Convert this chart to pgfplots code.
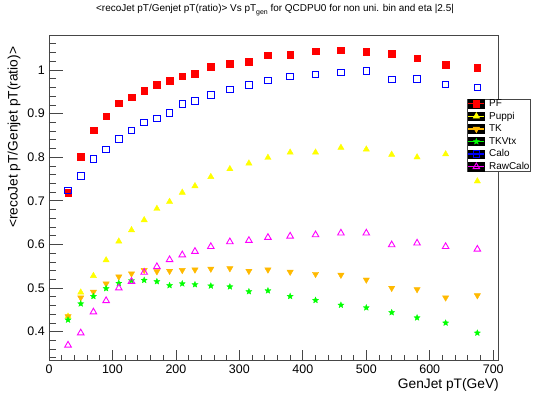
\documentclass[border=0pt]{standalone}
\usepackage{pgfplots}
\usepackage{pgfplotstable}
\pgfplotsset{compat=1.18}
\usepackage{fontspec}
\setmainfont{Liberation Sans}

\definecolor{tkorange}{RGB}{255,185,0}
\definecolor{framegray}{RGB}{70,70,70}
\definecolor{pfred}{RGB}{255,0,0}
\definecolor{pupyellow}{RGB}{255,255,0}
\definecolor{vtxgreen}{RGB}{0,255,0}
\definecolor{caloblue}{RGB}{0,0,255}
\definecolor{rawmag}{RGB}{255,0,255}

\pgfdeclareplotmark{fstar}{%
  \pgfpathmoveto{\pgfpointpolar{90}{\pgfplotmarksize}}%
  \pgfpathlineto{\pgfpointpolar{126}{0.45\pgfplotmarksize}}%
  \pgfpathlineto{\pgfpointpolar{162}{\pgfplotmarksize}}%
  \pgfpathlineto{\pgfpointpolar{198}{0.45\pgfplotmarksize}}%
  \pgfpathlineto{\pgfpointpolar{234}{\pgfplotmarksize}}%
  \pgfpathlineto{\pgfpointpolar{270}{0.45\pgfplotmarksize}}%
  \pgfpathlineto{\pgfpointpolar{306}{\pgfplotmarksize}}%
  \pgfpathlineto{\pgfpointpolar{342}{0.45\pgfplotmarksize}}%
  \pgfpathlineto{\pgfpointpolar{18}{\pgfplotmarksize}}%
  \pgfpathlineto{\pgfpointpolar{54}{0.45\pgfplotmarksize}}%
  \pgfpathclose
  \pgfusepathqfillstroke
}

\pgfplotstableread{
x   pf     calo   puppi  tk     tkvtx  raw
30  0.719  0.724  0.435  0.435  0.427  0.369
50  0.801  0.757  0.490  0.478  0.464  0.397
70  0.862  0.796  0.528  0.491  0.481  0.445
90  0.894  0.818  0.564  0.510  0.499  0.471
110 0.924  0.842  0.607  0.526  0.511  0.500
130 0.9375 0.861  0.633  0.533  0.517  0.515
150 0.953  0.880  0.656  0.541  0.518  0.536
170 0.966  0.889  0.682  0.538  0.515  0.549
190 0.976  0.902  0.698  0.539  0.506  0.565
210 0.986  0.922  0.719  0.541  0.510  0.576
230 0.992  0.929  0.734  0.542  0.508  0.584
255 1.008  0.943  0.755  0.544  0.505  0.595
285 1.015  0.955  0.773  0.545  0.503  0.606
315 1.019  0.966  0.786  0.539  0.492  0.609
345 1.034  0.976  0.799  0.542  0.494  0.616
380 1.035  0.985  0.811  0.537  0.481  0.619
420 1.043  0.990  0.811  0.532  0.472  0.622
460 1.045  0.994  0.822  0.530  0.461  0.626
500 1.042  0.998  0.818  0.519  0.455  0.626
540 1.038  0.978  0.806  0.500  0.444  0.599
580 1.027  0.979  0.800  0.497  0.432  0.603
625 1.012  0.967  0.807  0.478  0.420  0.595
675 1.005  0.960  0.745  0.483  0.397  0.589
}\datatable

\begin{document}
\begin{tikzpicture}
\path[use as bounding box] (0,0) rectangle (550bp,397bp);
\begin{axis}[
  at={(49bp,37bp)}, anchor=south west,
  scale only axis, width=449.3bp, height=324.7bp,
  xmin=0, xmax=708, ymin=0.335, ymax=1.0796,
  xtick={0,100,...,700},
  minor xtick={0,20,...,700},
  ytick={0.4,0.5,0.6,0.7,0.8,0.9,1.0},
  minor ytick={0.34,0.36,0.38,0.40,0.42,0.44,0.46,0.48,0.50,0.52,0.54,0.56,0.58,0.60,0.62,0.64,0.66,0.68,0.70,0.72,0.74,0.76,0.78,0.80,0.82,0.84,0.86,0.88,0.90,0.92,0.94,0.96,0.98,1.00,1.02,1.04,1.06},
  tick align=inside,
  xtick pos=bottom, ytick pos=left,
  major tick length=13.5bp, minor tick length=6.7bp,
  xtick style={/pgfplots/major tick length=9.75bp},
  minor x tick style={/pgfplots/minor tick length=4.9bp},
  every tick/.style={framegray, line width=0.7bp},
  axis line style={framegray, line width=0.8bp},
  /pgf/number format/assume math mode=true,
  yticklabel style={/pgf/number format/fixed, /pgf/number format/precision=1},
  ticklabel style={font=\fontsize{12.5}{14}\selectfont},
  xticklabel style={inner sep=0pt, anchor=north, yshift=-5bp},
  yticklabel style={inner sep=0pt, anchor=east, xshift=-4bp},
  xlabel={GenJet pT(GeV)},
  xlabel style={at={(axis description cs:1.0016,-0.0576)}, anchor=north east, inner sep=0pt, font=\fontsize{13.8}{16}\selectfont},
  ylabel={<recoJet pT/Genjet pT(ratio)>},
  ylabel style={at={(axis description cs:-0.0779,0.9649)}, anchor=east, inner sep=0pt, font=\fontsize{13.8}{16}\selectfont},
  title={<recoJet pT/Genjet pT(ratio)> Vs pT\raisebox{-3bp}{\fontsize{7}{7}\selectfont gen} for QCDPU0 for non uni. bin and eta |2.5|},
  title style={at={(axis description cs:0.5,1)}, anchor=base, yshift=18.3bp, xshift=1.4bp, inner sep=0pt, font=\fontsize{10}{12}\selectfont},
  legend image code/.code={
    \fill[black] (0bp,-4.2bp) rectangle (16bp,4.2bp);
    \draw[#1, line width=1.5bp] (0bp,0bp) -- (16bp,0bp);
    \draw[#1] plot coordinates {(8bp,0bp)};
  },
  legend style={at={(axis description cs:0.9296,0.8052)}, anchor=north west,
    draw=framegray, fill=white, line width=0.7bp,
    font=\fontsize{10}{12}\selectfont,
    inner xsep=0.6bp, inner ysep=0.3bp, row sep=3.5bp, column sep=4bp,
    nodes={inner sep=0pt, text height=7.2bp, text depth=1.8bp}},
  legend cell align=left,
]
\addplot[only marks, pfred, mark=square*, mark size=3.3bp, mark options={fill=pfred}] table[x=x, y=pf] {\datatable};
\addlegendentry{PF}
\addplot[only marks, pupyellow, mark=triangle*, mark size=3.6bp, mark options={fill=pupyellow}] table[x=x, y=puppi] {\datatable};
\addlegendentry{Puppi}
\addplot[only marks, tkorange, mark=triangle*, mark size=3.6bp, mark options={fill=tkorange, rotate=180}] table[x=x, y=tk] {\datatable};
\addlegendentry{TK}
\addplot[only marks, vtxgreen, mark=fstar, mark size=3.2bp, mark options={fill=vtxgreen, line width=0.3bp}] table[x=x, y=tkvtx] {\datatable};
\addlegendentry{TKVtx}
\addplot[only marks, caloblue, mark=square, mark size=3.3bp, mark options={line width=0.9bp}] table[x=x, y=calo] {\datatable};
\addlegendentry{Calo}
\addplot[only marks, rawmag, mark=triangle, mark size=3.8bp, mark options={line width=0.9bp}] table[x=x, y=raw] {\datatable};
\addlegendentry{RawCalo}
\end{axis}
\end{tikzpicture}
\end{document}
